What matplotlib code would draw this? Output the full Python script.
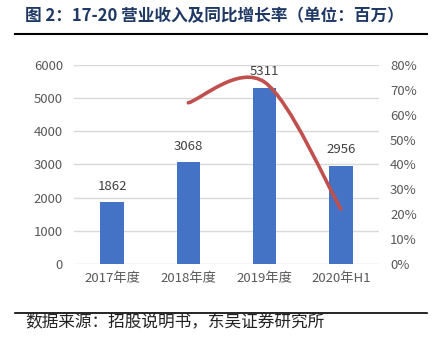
import matplotlib
matplotlib.use("Agg")
import matplotlib.pyplot as plt
from matplotlib.path import Path
from matplotlib.patches import PathPatch
from matplotlib.lines import Line2D
from matplotlib.ticker import FuncFormatter

plt.rcParams['font.family'] = ['Noto Sans CJK SC', 'DejaVu Sans']

categories = ["2017年度", "2018年度", "2019年度", "2020年H1"]
revenue = [1862, 3068, 5311, 2956]
growth_x = [1, 2, 3]          # category index of growth points
growth = [0.648, 0.731, 0.221]
title = "图 2：17-20 营业收入及同比增长率（单位：百万）"
source = "数据来源：招股说明书，东吴证券研究所"

W, H = 439, 348
fig = plt.figure(figsize=(W / 100, H / 100), dpi=100)
ax = fig.add_axes([74 / W, 1 - 264 / H, 305 / W, 199 / H])
ax2 = ax.twinx()

x = list(range(len(categories)))
bars = ax.bar(x, revenue, width=0.31, color="#4472C4", zorder=3)
for xi, v in zip(x, revenue):
    ax.annotate(str(v), (xi, v), xytext=(0, 7), textcoords="offset points",
                ha="center", va="bottom", fontsize=9.5, color="#404040")

ax.set_xlim(-0.5, len(categories) - 0.5)
ax.set_ylim(0, 6000)
ax.set_yticks(range(0, 6001, 1000))
ax.set_xticks(x)
ax.set_xticklabels(categories)
ax.grid(axis="y", color="#D9D9D9", lw=1, zorder=0)
ax.tick_params(axis="both", length=0, labelsize=9.5, colors="#595959")
ax.tick_params(axis="y", pad=8)
ax.tick_params(axis="x", pad=6)
for s in ax.spines.values():
    s.set_visible(False)

ax2.set_ylim(0, 0.8)
ax2.set_yticks([i / 10 for i in range(9)])
ax2.yaxis.set_major_formatter(FuncFormatter(lambda v, p: f"{v*100:.0f}%"))
ax2.tick_params(axis="y", length=0, labelsize=9.5, colors="#595959", pad=8)
for s in ax2.spines.values():
    s.set_visible(False)

# smoothed line (Catmull-Rom as cubic Bezier segments, like Excel smoothing)
pts = list(zip(growth_x, growth))
verts = [pts[0]]
codes = [Path.MOVETO]
n = len(pts)
for i in range(n - 1):
    p0 = pts[i - 1] if i > 0 else pts[i]
    p1 = pts[i]
    p2 = pts[i + 1]
    p3 = pts[i + 2] if i + 2 < n else pts[i + 1]
    c1 = (p1[0] + (p2[0] - p0[0]) / 6, p1[1] + (p2[1] - p0[1]) / 6)
    c2 = (p2[0] - (p3[0] - p1[0]) / 6, p2[1] - (p3[1] - p1[1]) / 6)
    verts += [c1, c2, p2]
    codes += [Path.CURVE4] * 3
patch = PathPatch(Path(verts, codes), facecolor="none", edgecolor="#C0504D",
                  lw=2.6, capstyle="round", zorder=4)
ax2.add_patch(patch)

fig.text(25 / W, 1 - 16 / H, title, fontsize=12, fontweight="bold",
         color="#1F3864", ha="left", va="center")
fig.add_artist(Line2D([15 / W, 427 / W], [1 - 34 / H, 1 - 34 / H],
                      color="black", lw=1.5, transform=fig.transFigure))
fig.add_artist(Line2D([15 / W, 427 / W], [1 - 313 / H, 1 - 313 / H],
                      color="black", lw=1.2, transform=fig.transFigure))
fig.text(25 / W, 1 - 323 / H, source, fontsize=12, color="#222222",
         ha="left", va="center")

fig.savefig("out.png", dpi=100)
